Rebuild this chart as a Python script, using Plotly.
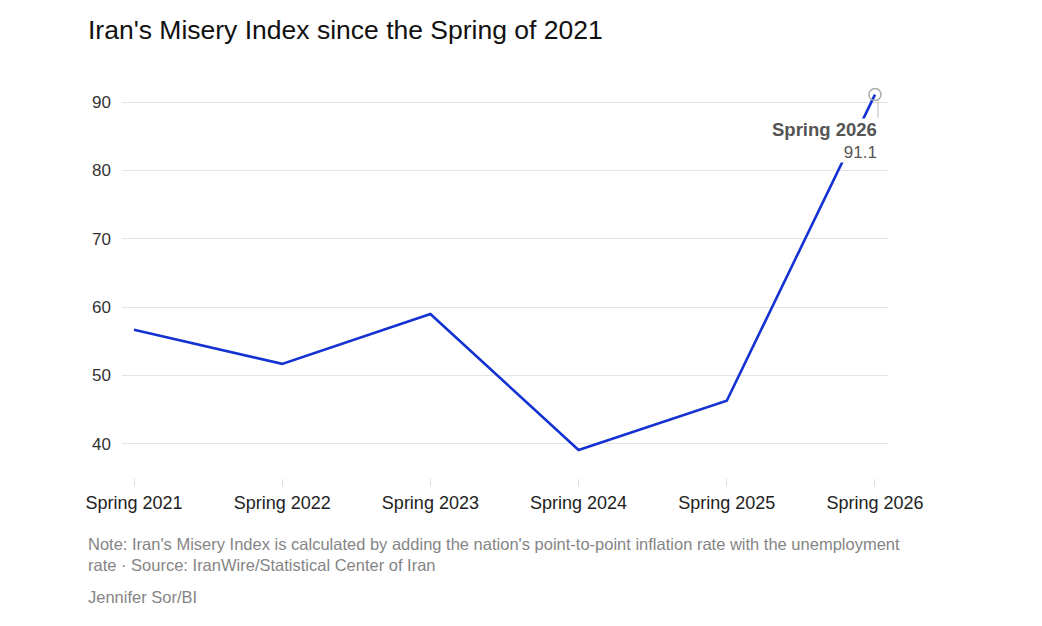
import plotly.graph_objects as go

categories = ["Spring 2021", "Spring 2022", "Spring 2023", "Spring 2024", "Spring 2025", "Spring 2026"]
misery_index = [56.7, 51.7, 59.0, 39.1, 46.3, 91.1]
y_ticks = [40, 50, 60, 70, 80, 90]

W, H = 1042, 626
OFF = 8  # page body offset
L, R, T, B = 122 - OFF, 154 + OFF, 85 - OFF, 148 + OFF
FONT = "Liberation Sans, Arial, sans-serif"
PW, PH = W - L - R, H - T - B


def px_x(px):
    return (px - OFF - L) / PW


def px_y(py):
    return (H - B - (py - OFF)) / PH


fig = go.Figure()
fig.add_trace(go.Scatter(
    x=list(range(len(categories))), y=misery_index, mode="lines",
    line=dict(color="#1432d2", width=2.6), hoverinfo="skip", showlegend=False))
fig.add_trace(go.Scatter(
    x=[len(categories) - 1], y=[misery_index[-1]], mode="markers",
    marker=dict(size=12, color="rgba(255,255,255,0)", line=dict(color="#aaaaaa", width=1.5)),
    hoverinfo="skip", showlegend=False))

fig.update_layout(
    width=W, height=H,
    margin=dict(l=L, r=R, t=T, b=B),
    paper_bgcolor="white", plot_bgcolor="white",
    font=dict(family=FONT, color="#333333", size=16),
    xaxis=dict(
        range=[-0.081, len(categories) - 1 + 0.088],
        tickmode="array", tickvals=list(range(len(categories))), ticktext=categories,
        showgrid=False, zeroline=False, showline=False,
        ticks="outside", ticklen=7, tickcolor="#dddddd", tickwidth=1,
        tickfont=dict(size=18, color="#222222"), ticklabelstandoff=1,
    ),
    yaxis=dict(
        range=[35, 92.5], tickvals=y_ticks,
        showgrid=True, gridcolor="#e4e4e4", gridwidth=1,
        zeroline=False, showline=False, ticks="",
        tickfont=dict(size=17, color="#333333"), ticklabelstandoff=10,
    ),
)

ann = []
ann.append(dict(text="Iran's Misery Index since the Spring of 2021", xref="paper", yref="paper",
                x=px_x(86), y=px_y(30), xanchor="left", yanchor="middle",
                showarrow=False, font=dict(size=26.5, color="#111111", family=FONT)))
ann.append(dict(text="Note: Iran's Misery Index is calculated by adding the nation's point-to-point inflation rate with the unemployment<br>rate · Source: IranWire/Statistical Center of Iran",
                xref="paper", yref="paper", align="left",
                x=px_x(86), y=px_y(554), xanchor="left", yanchor="middle",
                showarrow=False, font=dict(size=16.5, color="#858585", family=FONT)))
ann.append(dict(text="Jennifer Sor/BI", xref="paper", yref="paper",
                x=px_x(86), y=px_y(597), xanchor="left", yanchor="middle",
                showarrow=False, font=dict(size=16.5, color="#858585", family=FONT)))
ann.append(dict(text="<span style='font-size:18.5px'><b>Spring 2026</b></span><br>" + f"{misery_index[-1]}",
                x=len(categories) - 1, y=misery_index[-1], xref="x", yref="y",
                showarrow=True, arrowhead=0, arrowwidth=1, arrowcolor="#bbbbbb",
                ax=0, ay=23, standoff=6, xanchor="right", yanchor="top", align="right",
                xshift=3, bgcolor="white", borderpad=0,
                font=dict(size=17, color="#555555", family=FONT)))
fig.update_layout(annotations=ann)

fig.write_html("out.html")
